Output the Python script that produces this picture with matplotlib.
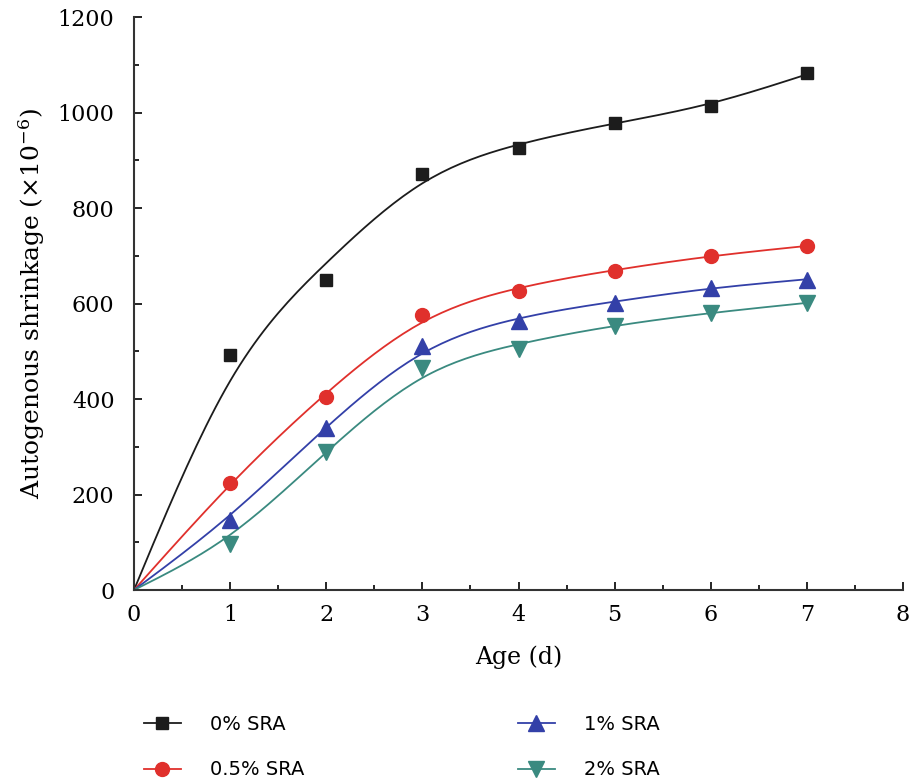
import numpy as np
import matplotlib
matplotlib.use("Agg")
import matplotlib.pyplot as plt
from matplotlib.ticker import MultipleLocator

# age in days and autogenous shrinkage (x10^-6)
age = [0, 1, 2, 3, 4, 5, 6, 7]
sra_0 = [0, 492, 649, 871, 926, 978, 1014, 1083]
sra_05 = [0, 224, 404, 576, 626, 668, 700, 720]
sra_1 = [0, 146, 339, 512, 563, 601, 633, 650]
sra_2 = [0, 96, 289, 465, 505, 553, 580, 601]

labels = ["0% SRA", "0.5% SRA", "1% SRA", "2% SRA"]
colors = ["#1c1c1c", "#e0302c", "#3340a8", "#3a8a80"]
markers = ["s", "o", "^", "v"]
msizes = [9, 10, 11, 11]


def smooth_curve(x, y, p=0.1, step=0.05):
    # penalised least squares on a fine grid (smoothing spline like)
    n = int(round((x[-1] - x[0]) / step)) + 1
    grid = np.linspace(x[0], x[-1], n)
    W = np.zeros(n)
    Y = np.zeros(n)
    for xi, yi in zip(x, y):
        k = int(round((xi - x[0]) / step))
        W[k] = 1.0
        Y[k] = yi
    W[0] = 1000.0  # pin the origin
    D = np.diff(np.eye(n), 2, axis=0)
    lam = p / step ** 3
    f = np.linalg.solve(np.diag(W) + lam * D.T @ D, W * Y)
    return grid, f


plt.rcParams['mathtext.fontset'] = 'dejavuserif'

fig = plt.figure(figsize=(9.14, 7.82), dpi=100)
ax = fig.add_axes([0.1466, 0.2455, 0.8414, 0.7325])

handles = []
for ys, lab, c, m, ms in zip([sra_0, sra_05, sra_1, sra_2], labels, colors, markers, msizes):
    gx, gy = smooth_curve(age, ys)
    ax.plot(gx, gy, color=c, lw=1.3, zorder=2)
    ax.plot(age[1:], ys[1:], ls='none', marker=m, ms=ms, color=c, zorder=3)
    h, = ax.plot([], [], color=c, lw=1.3, marker=m, ms=ms, label=lab)
    handles.append(h)

ax.set_xlim(0, 8)
ax.set_ylim(0, 1200)
ax.xaxis.set_major_locator(MultipleLocator(1))
ax.xaxis.set_minor_locator(MultipleLocator(0.5))
ax.yaxis.set_major_locator(MultipleLocator(200))
ax.yaxis.set_minor_locator(MultipleLocator(100))
ax.tick_params(which='both', direction='in', top=False, right=False)
ax.tick_params(which='major', length=6, width=1.2, labelsize=16)
ax.tick_params(axis='x', which='major', pad=10)
ax.tick_params(axis='y', which='major', pad=14)
ax.tick_params(which='minor', length=3.5, width=1.2)
for lab in ax.get_xticklabels() + ax.get_yticklabels():
    lab.set_family('DejaVu Serif')
ax.spines['top'].set_visible(False)
ax.spines['right'].set_visible(False)
ax.spines['left'].set_linewidth(1.5)
ax.spines['bottom'].set_linewidth(1.5)
ax.spines['left'].set_color('#333333')
ax.spines['bottom'].set_color('#333333')

ax.set_xlabel("Age (d)", family='DejaVu Serif', fontsize=17, labelpad=14)
ax.set_ylabel(r"Autogenous shrinkage ($\times10^{-6}$)", family='DejaVu Serif',
              fontsize=18, labelpad=8)

fig.legend(handles=handles, ncol=2, loc='lower left', bbox_to_anchor=(0.138, -0.019),
           frameon=False, columnspacing=11.0, handlelength=1.9,
           handletextpad=1.5, labelspacing=1.35, prop={'family': 'DejaVu Sans', 'size': 14})

fig.savefig("out.png", dpi=100)
